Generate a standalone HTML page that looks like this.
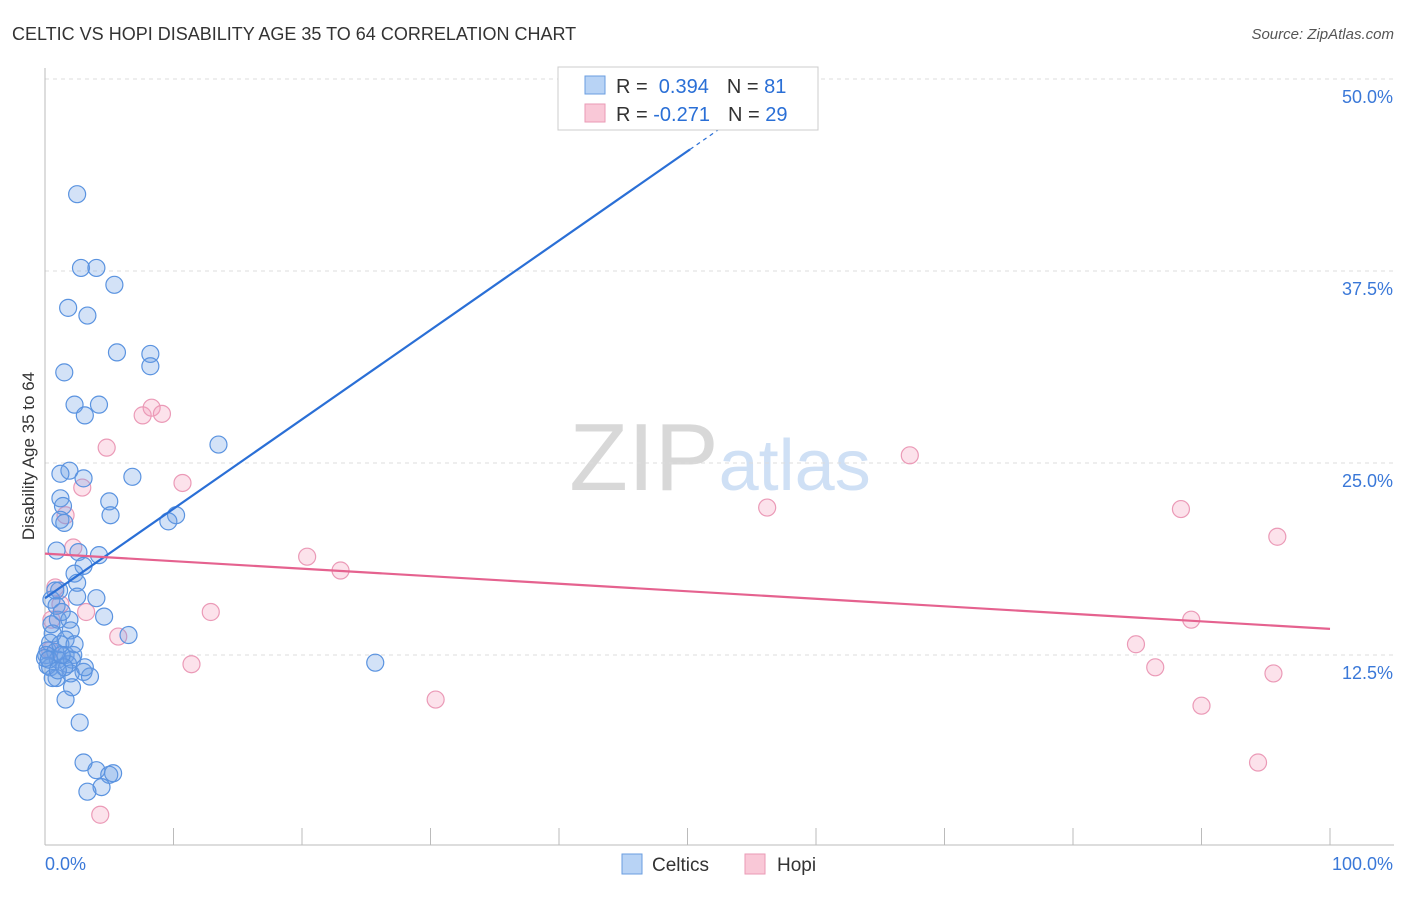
<!DOCTYPE html>
<html><head><meta charset="utf-8"><style>
body{margin:0;background:#fff;font-family:"Liberation Sans",sans-serif}
svg text{font-family:"Liberation Sans",sans-serif}
</style></head><body>
<svg id="c" width="1406" height="892">
<text x="12" y="40" font-size="18" fill="#333">CELTIC VS HOPI DISABILITY AGE 35 TO 64 CORRELATION CHART</text>
<text x="1394" y="39" font-size="15" fill="#555" font-style="italic" text-anchor="end">Source: ZipAtlas.com</text>
<text x="34" y="456" font-size="17" fill="#333" text-anchor="middle" transform="rotate(-90 34 456)">Disability Age 35 to 64</text>
<text x="720" y="490" font-size="96" fill="#ddd" text-anchor="middle" font-family="Liberation Serif"><tspan fill="#d8d8d8">ZIP</tspan><tspan fill="#cfe0f5" font-family="Liberation Sans" font-size="72">atlas</tspan></text>
<g id="grid"></g><g id="marks"></g><g id="lines"></g>
<g>
<rect x="558" y="67" width="260" height="63" fill="#fff" stroke="#ccc"/>
<rect x="585" y="76" width="20" height="18" fill="#b8d3f5" stroke="#6a9ee0"/>
<rect x="585" y="104" width="20" height="18" fill="#f9c8d7" stroke="#ea9ab5"/>
<text x="616" y="93" font-size="20" fill="#333">R = <tspan fill="#2a6fd6">&#160;0.394</tspan><tspan dx="18" fill="#333">N = </tspan><tspan fill="#2a6fd6"> 81</tspan></text>
<text x="616" y="121" font-size="20" fill="#333">R = <tspan fill="#2a6fd6">-0.271</tspan><tspan dx="18" fill="#333">N = </tspan><tspan fill="#2a6fd6">29</tspan></text>
</g>
<g>
<rect x="622" y="854" width="20" height="20" fill="#b8d3f5" stroke="#6a9ee0"/>
<text x="652" y="871" font-size="19" fill="#333">Celtics</text>
<rect x="745" y="854" width="20" height="20" fill="#f9c8d7" stroke="#ea9ab5"/>
<text x="777" y="871" font-size="19" fill="#333">Hopi</text>
</g>
</svg>
<script>
const blueX=[2.5,2.8,4.0,5.4,1.8,3.3,5.6,8.2,8.2,1.5,2.3,4.2,3.1,13.5,1.9,1.2,3.0,6.8,1.2,5.0,1.4,1.2,1.5,5.1,10.2,9.6,0.9,2.6,4.2,3.0,2.3,2.5,1.1,2.5,4.0,0.5,0.9,4.6,1.0,1.9,2.0,0.6,1.6,6.5,0.4,0.2,0.8,0.1,1.6,2.2,1.0,1.8,2.1,0.4,3.0,3.5,2.0,0.9,2.1,1.6,2.7,3.0,4.0,5.0,5.3,4.4,3.3,25.7,0.2,1.2,0.0,0.5,1.3,0.8,0.3,2.3,1.5,0.6,1.0,3.1,1.3];
const blueY=[42.5,37.7,37.7,36.6,35.1,34.6,32.2,32.1,31.3,30.9,28.8,28.8,28.1,26.2,24.5,24.3,24.0,24.1,22.7,22.5,22.2,21.3,21.1,21.6,21.6,21.2,19.3,19.2,19.0,18.3,17.8,17.2,16.7,16.3,16.2,16.1,15.7,15.0,14.8,14.8,14.1,13.9,13.5,13.8,13.3,12.8,12.7,12.5,12.5,12.5,12.2,11.9,12.2,11.7,11.4,11.1,11.3,11.0,10.4,9.6,8.1,5.5,5.0,4.7,4.8,3.9,3.6,12.0,11.8,13.2,12.3,14.5,15.3,16.7,12.2,13.2,11.7,11.0,11.5,11.7,12.5];
const pinkX=[4.3,0.8,1.2,3.2,2.2,1.6,2.9,4.8,7.6,8.3,9.1,10.7,5.7,11.4,12.9,20.4,23.0,30.4,56.2,67.3,84.9,86.4,88.4,89.2,90.0,94.4,95.6,95.9,0.4,0.5];
const pinkY=[2.1,16.9,15.8,15.3,19.5,21.6,23.4,26.0,28.1,28.6,28.2,23.7,13.7,11.9,15.3,18.9,18.0,9.6,22.1,25.5,13.2,11.7,22.0,14.8,9.2,5.5,11.3,20.2,12.8,14.8];
const blueFit=[16.2,0.582];
const pinkFit=[19.1,-0.049];
const yTicks=[12.5,25.0,37.5,50.0];
const yTickLabels=["12.5%","25.0%","37.5%","50.0%"];
const xTicks=[0,10,20,30,40,50,60,70,80,90,100];
const NS="http://www.w3.org/2000/svg";
const sx=v=>45+v*12.85, sy=v=>847-v*15.36;
function mk(p,t,a){const e=document.createElementNS(NS,t);for(const k in a)e.setAttribute(k,a[k]);p.appendChild(e);return e;}
const grid=document.getElementById('grid'),marks=document.getElementById('marks'),lines=document.getElementById('lines');
yTicks.forEach((v,i)=>{
 const g=mk(grid,'line',{x1:45,x2:1394,y1:sy(v),y2:sy(v),stroke:'#ddd','stroke-dasharray':'4,4'});
 
 
 const t=mk(grid,'text',{x:1393,y:sy(v)+24,'font-size':18,fill:'#3a78d8','text-anchor':'end'});
 t.textContent=yTickLabels[i];
 
 
});
const ax=mk(grid,'line',{x1:45,x2:1394,y1:845,y2:845,stroke:'#bbb'});


const ay=mk(grid,'line',{x1:45,x2:45,y1:68,y2:845,stroke:'#bbb'});


xTicks.forEach(v=>{const t=mk(grid,'line',{x1:sx(v),x2:sx(v),y1:828,y2:845,stroke:'#bbb'});
 
 });
const l0=mk(grid,'text',{x:45,y:870,'font-size':18,fill:'#3a78d8'});l0.textContent='0.0%';


const l1=mk(grid,'text',{x:1393,y:870,'font-size':18,fill:'#3a78d8','text-anchor':'end'});l1.textContent='100.0%';


pinkX.forEach((x,i)=>{const c=mk(marks,'circle',{cx:sx(x),cy:sy(pinkY[i]),r:8.5,fill:'rgba(245,160,190,0.3)',stroke:'#eb9ab7','stroke-width':1.2});
 
 });
blueX.forEach((x,i)=>{const c=mk(marks,'circle',{cx:sx(x),cy:sy(blueY[i]),r:8.5,fill:'rgba(110,160,230,0.3)',stroke:'#5a93e0','stroke-width':1.2});
 
 });
const bl=mk(lines,'line',{x1:sx(0),y1:sy(blueFit[0]),x2:sx(50.2),y2:sy(blueFit[0]+blueFit[1]*50.2),stroke:'#2a6fd6','stroke-width':2.2});


const bd=mk(lines,'line',{x1:sx(50.2),y1:sy(blueFit[0]+blueFit[1]*50.2),x2:sx(54.5),y2:sy(blueFit[0]+blueFit[1]*54.5),stroke:'#2a6fd6','stroke-width':1.2,'stroke-dasharray':'4,4'});


const pl=mk(lines,'line',{x1:sx(0),y1:sy(pinkFit[0]),x2:sx(100),y2:sy(pinkFit[0]+pinkFit[1]*100),stroke:'#e5628f','stroke-width':2.2});


</script>
</body></html>
